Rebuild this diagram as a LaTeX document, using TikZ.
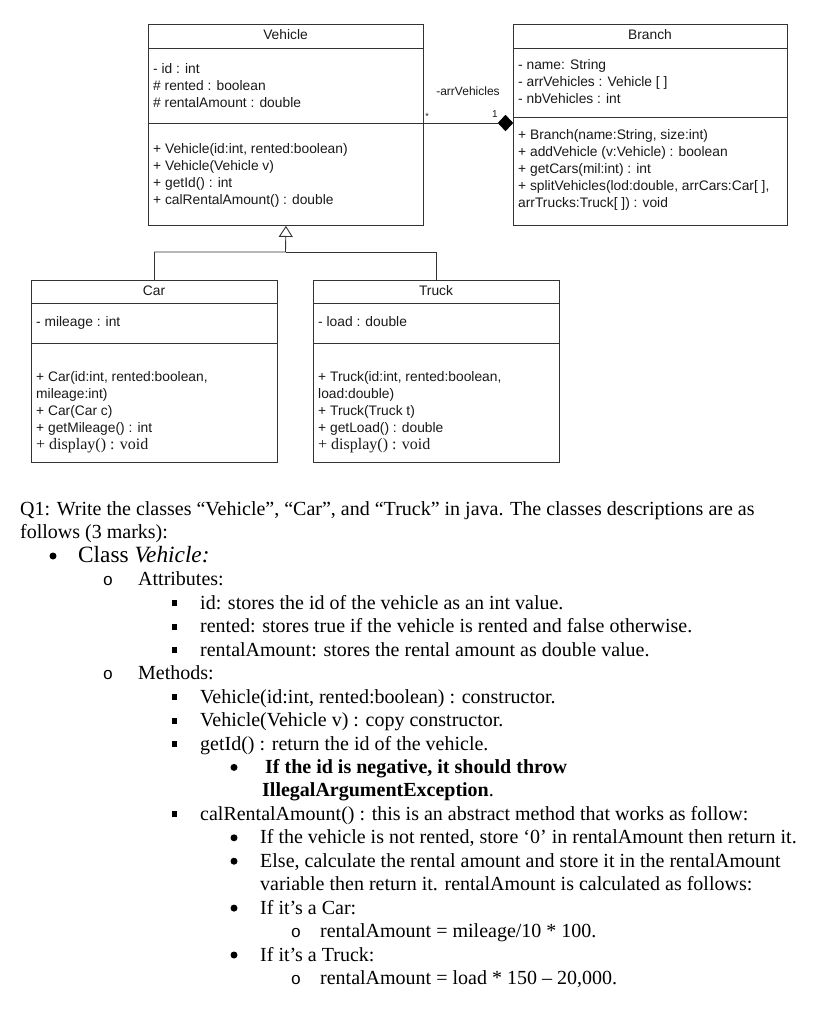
\documentclass[tikz,border=0pt]{standalone}
\usepackage{fontspec}
\setmainfont{Liberation Serif}
\newfontfamily\umlfont{Liberation Sans}
\newfontfamily\bulfont{Liberation Mono}
\usetikzlibrary{arrows.meta,shapes.geometric}
\newcommand{\umlsz}{\umlfont\fontsize{13.8}{17}\selectfont}
\newcommand{\bodysz}{\rmfamily\fontsize{20}{23.45}\selectfont}
\newcommand{\umllines}[1]{\parbox[t]{270pt}{\raggedright\umlsz #1}}
\newcommand{\sqbul}{\rule[3pt]{5pt}{6pt}}
\begin{document}
\begin{tikzpicture}[x=1pt,y=-1pt,
  comp/.style={draw=black!80, line width=0.9pt, anchor=north west, inner sep=0pt, minimum width=#1},
  ttl/.style={anchor=base, inner sep=0pt, font=\umlsz, text=black!90},
  lns/.style={anchor=base west, inner sep=0pt, text=black!90},
  conn/.style={draw=black!80, line width=0.9pt},
  bl/.style={anchor=base west, inner sep=0pt, font=\bodysz},
  bu/.style={anchor=base, inner sep=0pt, font=\bodysz},
  dot/.style={circle, fill=black, inner sep=0pt, minimum size=7pt},
  ob/.style={anchor=base, inner sep=0pt, font=\bulfont\fontsize{17}{20}\selectfont}]
\useasboundingbox[fill=white] (0,0) rectangle (834,1024);

% ---------- Vehicle ----------
\node[comp=275pt, minimum height=24pt] (vt) at (148,24) {};
\node[comp=275pt, minimum height=75pt] (va) at (148,48) {};
\node[comp=275pt, minimum height=102pt] (vm) at (148,123) {};
\node[ttl] (vtt) at (285.5,40) {Vehicle};
\node[lns] (vat) at (153,74) {\umllines{- id : int\\ \# rented : boolean\\ \# rentalAmount : double}};
\node[lns] (vmt) at (153,154) {\umllines{+ Vehicle(id:int, rented:boolean)\\ + Vehicle(Vehicle v)\\ + getId() : int\\ + calRentalAmount() : double}};

% ---------- Branch ----------
\node[comp=274pt, minimum height=24pt] (bt) at (513,24) {};
\node[comp=274pt, minimum height=69pt] (ba) at (513,48) {};
\node[comp=274pt, minimum height=108pt] (bm) at (513,117) {};
\node[ttl] (btt) at (650,40) {Branch};
\node[lns] (bat) at (518,69.5) {\umllines{- name: String\\ - arrVehicles : Vehicle [ ]\\ - nbVehicles : int}};
\node[lns] (bmt) at (518,140) {\umllines{+ Branch(name:String, size:int)\\ + addVehicle (v:Vehicle) : boolean\\ + getCars(mil:int) : int\\ + splitVehicles(lod:double, arrCars:Car[ ],\\ arrTrucks:Truck[ ]) : void}};

% ---------- Car ----------
\node[comp=246pt, minimum height=23pt] (ct) at (31,280) {};
\node[comp=246pt, minimum height=40pt] (ca) at (31,303) {};
\node[comp=246pt, minimum height=119pt] (cm) at (31,343) {};
\node[ttl] (ctt) at (154,295) {Car};
\node[lns] (cat) at (36,326) {\umllines{- mileage : int}};
\node[lns] (cmt) at (36,381) {\umllines{+ Car(id:int, rented:boolean,\\ mileage:int)\\ + Car(Car c)\\ + getMileage() : int\\ {\rmfamily\fontsize{16}{17}\selectfont + display() : void}}};

% ---------- Truck ----------
\node[comp=246pt, minimum height=23pt] (tt) at (313,280) {};
\node[comp=246pt, minimum height=40pt] (ta) at (313,303) {};
\node[comp=246pt, minimum height=119pt] (tm) at (313,343) {};
\node[ttl] (ttt) at (436,295) {Truck};
\node[lns] (tat) at (318,326) {\umllines{- load : double}};
\node[lns] (tmt) at (318,381) {\umllines{+ Truck(id:int, rented:boolean,\\ load:double)\\ + Truck(Truck t)\\ + getLoad() : double\\ {\rmfamily\fontsize{16}{17}\selectfont + display() : void}}};

% ---------- association ----------
\node[diamond, fill=black, draw=black, inner sep=0pt, minimum width=15pt, minimum height=16pt] (dia) at (505.5,123) {};
\draw[conn] (vm.north east) -- (dia.west);
\node[anchor=base, inner sep=0pt, font=\umlfont\fontsize{12}{14}\selectfont, text=black!90] (lab) at (468,96) {-arrVehicles};
\node[anchor=base, inner sep=0pt, font=\umlfont\fontsize{9}{10}\selectfont, text=black!90] (m1) at (427,120) {*};
\node[anchor=base, inner sep=0pt, font=\umlfont\fontsize{10}{11}\selectfont, text=black!90] (m2) at (495,118) {1};

% ---------- generalization ----------
\coordinate (j) at (285.5,252);
\draw[conn, -{Triangle[open, fill=white, length=11pt, width=14pt]}] (ct.north) |- (j) -- (vm.south);
\draw[conn] (tt.north) |- (j);

% ---------- text ----------
\node[bl] (l0) at (20,515.5) {Q1: Write the classes “Vehicle”, “Car”, and “Truck” in java. The classes descriptions are as};
\node[bl] (l1) at (20,538.9) {follows (3 marks):};
\node[dot] (b2) at (53,556) {};
\node[bl, font=\rmfamily\fontsize{23.3}{26}\selectfont] (l2) at (78,562.4) {Class \textit{Vehicle:}};
\node[ob] (b3) at (108,585.8) {o};
\node[bl] (l3) at (138,585.8) {Attributes:};
\node[bu] (b4) at (174,609.3) {\sqbul};
\node[bl] (l4) at (200,609.3) {id: stores the id of the vehicle as an int value.};
\node[bu] (b5) at (174,632.7) {\sqbul};
\node[bl] (l5) at (200,632.7) {rented: stores true if the vehicle is rented and false otherwise.};
\node[bu] (b6) at (174,656.2) {\sqbul};
\node[bl] (l6) at (200,656.2) {rentalAmount: stores the rental amount as double value.};
\node[ob] (b7) at (108,679.6) {o};
\node[bl] (l7) at (138,679.6) {Methods:};
\node[bu] (b8) at (174,703.1) {\sqbul};
\node[bl] (l8) at (200,703.1) {Vehicle(id:int, rented:boolean) : constructor.};
\node[bu] (b9) at (174,726.5) {\sqbul};
\node[bl] (l9) at (200,726.5) {Vehicle(Vehicle v) : copy constructor.};
\node[bu] (b10) at (174,750) {\sqbul};
\node[bl] (l10) at (200,750) {getId() : return the id of the vehicle.};
\node[dot] (b11) at (234,767.4) {};
\node[bl] (l11) at (265,773.4) {\textbf{If the id is negative, it should throw}};
\node[bl] (l12) at (262,796.9) {\textbf{IllegalArgumentException}.};
\node[bu] (b13) at (174,820.3) {\sqbul};
\node[bl] (l13) at (200,820.3) {calRentalAmount() : this is an abstract method that works as follow:};
\node[dot] (b14) at (234,837.8) {};
\node[bl] (l14) at (260,843.8) {If the vehicle is not rented, store ‘0’ in rentalAmount then return it.};
\node[dot] (b15) at (234,861.2) {};
\node[bl] (l15) at (260,867.2) {Else, calculate the rental amount and store it in the rentalAmount};
\node[bl] (l16) at (260,890.7) {variable then return it. rentalAmount is calculated as follows:};
\node[dot] (b17) at (234,908.1) {};
\node[bl] (l17) at (260,914.1) {If it’s a Car:};
\node[ob] (b18) at (296,937.6) {o};
\node[bl] (l18) at (320,937.6) {rentalAmount = mileage/10 * 100.};
\node[dot] (b19) at (234,955) {};
\node[bl] (l19) at (260,961) {If it’s a Truck:};
\node[ob] (b20) at (296,984.5) {o};
\node[bl] (l20) at (320,984.5) {rentalAmount = load * 150 – 20,000.};
\end{tikzpicture}
\end{document}
